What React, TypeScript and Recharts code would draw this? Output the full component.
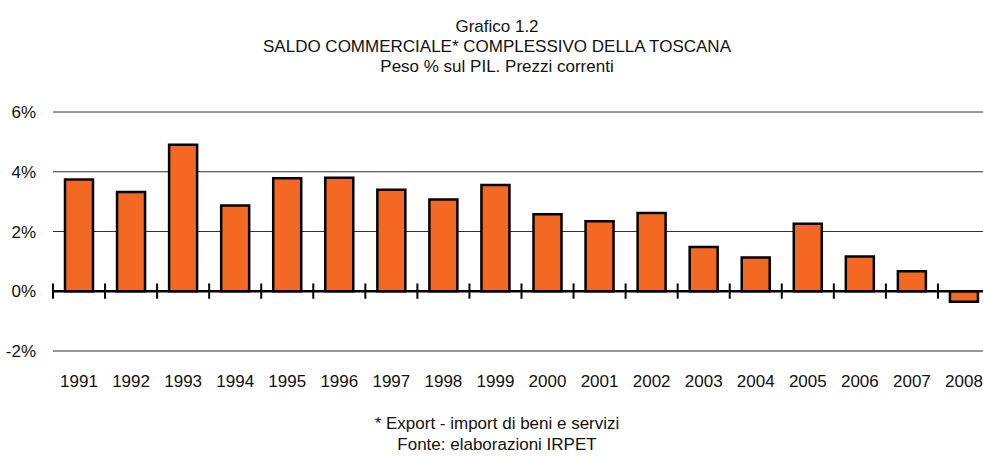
import { BarChart, Bar, XAxis, YAxis, CartesianGrid, ReferenceLine } from 'recharts'

const years = [
  '1991', '1992', '1993', '1994', '1995', '1996', '1997', '1998', '1999',
  '2000', '2001', '2002', '2003', '2004', '2005', '2006', '2007', '2008',
]
const saldo = [
  3.74, 3.32, 4.9, 2.87, 3.78, 3.8, 3.4, 3.07, 3.56,
  2.58, 2.34, 2.62, 1.48, 1.13, 2.26, 1.16, 0.67, -0.35,
]
const yTicks = [-2, 0, 2, 4, 6]
const titleLines = [
  'Grafico 1.2',
  'SALDO COMMERCIALE* COMPLESSIVO DELLA TOSCANA',
  'Peso % sul PIL. Prezzi correnti',
]
const noteLines = ['* Export - import di beni e servizi', 'Fonte: elaborazioni IRPET']

// numeric x axis so category boundaries can carry tick marks on the zero line
const data = years.map((year, i) => ({ year, pos: i + 0.5, value: saldo[i] }))
const xTicks = data.map((d) => d.pos)
const boundaries = [...years.map((_, i) => i), years.length]

const font = '"Liberation Sans", Arial, sans-serif'

export default function App() {
  return (
    <div
      style={{
        position: 'absolute',
        left: 0,
        top: 0,
        width: 983,
        height: 458,
        overflow: 'hidden',
        background: '#fff',
        fontFamily: font,
        color: '#111',
      }}
    >
      <div style={{ position: 'absolute', top: 17, left: 0, width: 994, textAlign: 'center', fontSize: 17, lineHeight: '20px' }}>
        {titleLines.map((t) => (
          <div key={t}>{t}</div>
        ))}
      </div>
      <BarChart
        width={990}
        height={458}
        data={data}
        margin={{ top: 112, right: 0, bottom: 67, left: 0 }}
      >
        <CartesianGrid horizontal vertical={false} stroke="#333" />
        <XAxis
          dataKey="pos"
          type="number"
          domain={[0, years.length]}
          ticks={xTicks}
          tickFormatter={(v: number) => years[Math.floor(v)]}
          axisLine={false}
          tickLine={false}
          tickSize={0}
          tickMargin={24}
          height={40}
          interval={0}
          tick={{ fontSize: 17, fill: '#111', fontFamily: font }}
        />
        <YAxis
          domain={[-2, 6]}
          ticks={yTicks}
          tickFormatter={(v: number) => `${v}%`}
          axisLine={false}
          tickLine={false}
          tickSize={0}
          tickMargin={17}
          width={53}
          tick={{ fontSize: 17, fill: '#111', fontFamily: font }}
        />
        <Bar
          dataKey="value"
          fill="#F36924"
          stroke="#000"
          strokeWidth={2.5}
          barSize={28}
          isAnimationActive={false}
        />
        <ReferenceLine y={0} stroke="#000" strokeWidth={2.5} />
        {boundaries.map((b) => (
          <ReferenceLine
            key={b}
            segment={[
              { x: b, y: -0.25 },
              { x: b, y: 0.26 },
            ]}
            stroke="#000"
            strokeWidth={2}
          />
        ))}
      </BarChart>
      <div style={{ position: 'absolute', top: 413, left: 0, width: 994, textAlign: 'center', fontSize: 17, lineHeight: '21px' }}>
        {noteLines.map((t) => (
          <div key={t}>{t}</div>
        ))}
      </div>
    </div>
  )
}
